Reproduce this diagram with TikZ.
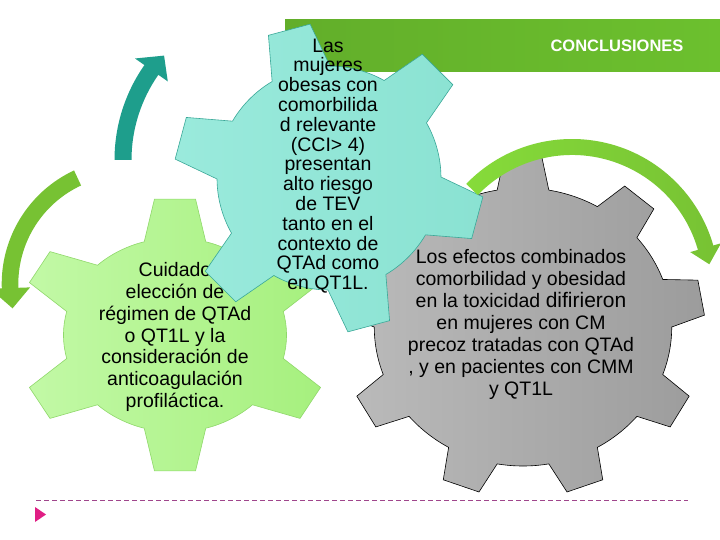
\documentclass[tikz,border=0pt]{standalone}
\usepackage{fontspec}
\setmainfont{Liberation Sans}
\definecolor{barleft}{HTML}{62AE2A}
\definecolor{barmid}{HTML}{82DD34}
\definecolor{barright}{HTML}{6CC02E}
\definecolor{greenlight}{HTML}{C2F9A6}
\definecolor{greendark}{HTML}{A6F07E}
\definecolor{greenline}{HTML}{8FD86A}
\definecolor{teallight}{HTML}{9AEADC}
\definecolor{tealdark}{HTML}{8AE2D2}
\definecolor{tealline}{HTML}{3AA898}
\definecolor{graylight}{HTML}{BBBBBB}
\definecolor{graydark}{HTML}{9C9C9C}
\definecolor{arrowteal}{HTML}{1E9E8C}
\definecolor{arrowgreen}{HTML}{77C233}
\definecolor{arrowlight}{HTML}{86DB3A}
\definecolor{rulecol}{HTML}{A0468C}
\definecolor{bullet}{HTML}{E01E84}
\begin{document}
\begin{tikzpicture}[x=1pt,y=-1pt,
    gearlabel/.style={align=center,text=black,font=\fontsize{19.5}{21.7}\selectfont},
    greengear/.style={draw=greenline,line width=0.6pt,left color=greenlight,right color=greendark},
    tealgear/.style={draw=tealline,line width=0.6pt,left color=teallight,right color=tealdark},
    graygear/.style={draw=black,line width=0.6pt,left color=graylight,right color=graydark}]
    \useasboundingbox[fill=white] (0,0) rectangle (720,540);
    \shade[left color=barleft,middle color=barmid,right color=barright] (285,20) rectangle (720,72);
    \node[text=white,font=\fontsize{16.5}{19}\selectfont\bfseries] (title) at (617,46) {CONCLUSIONES};
    \begin{scope}[shift={(523,327)},xscale=1.07]
        \path[graygear] (20:139) \foreach \a in {30,70,...,350}{ -- (\a-6:170) -- (\a+6:170) -- (\a+10:139) arc[start angle=\a+10,end angle=\a+30,radius=139]} -- cycle;
    \end{scope}
    \node[gearlabel,font=\fontsize{19.5}{22}\selectfont] (graytext) at (521,324) {Los efectos combinados\\comorbilidad y  obesidad\\en la toxicidad {\fontsize{21}{22}\selectfont difirieron}\\en mujeres con CM\\precoz tratadas con QTAd\\, y en pacientes con CMM\\y QT1L};
    \begin{scope}[shift={(175,335)},xscale=1.15]
        \path[greengear] (14:97) \foreach \a in {30,90,...,330}{ -- (\a-7.5:137) -- (\a+7.5:137) -- (\a+16:97) arc[start angle=\a+16,end angle=\a+44,radius=97]} -- cycle;
    \end{scope}
    \node[gearlabel] (greentext) at (175,337) {Cuidado\\elección de\\régimen de QTAd\\o QT1L y la\\consideración de\\anticoagulación\\profiláctica.};
    \begin{scope}[shift={(329,178)}]
        \path[tealgear] (-0.5:112) \foreach \a in {15,75,...,315}{ -- (\a-8:155) -- (\a+8:155) -- (\a+15.5:112) arc[start angle=\a+15.5,end angle=\a+44.5,radius=112]} -- cycle;
    \end{scope}
    \node[gearlabel,font=\fontsize{19.5}{19.8}\selectfont] (tealtext) at (328,166) {Las\\mujeres\\obesas con\\comorbilida\\d relevante\\(CCI> 4)\\presentan\\alto riesgo\\de TEV\\tanto en el\\contexto de\\QTAd como\\en  QT1L.};
    \begin{scope}[shift={(280,160)}]
        \fill[arrowteal] (180:165.5) arc[start angle=180,end angle=215,radius=165.5] -- (215:177) -- (222:156) -- (215:137) -- (215:148.5) arc[start angle=215,end angle=180,radius=148.5] -- cycle;
    \end{scope}
    \begin{scope}[shift={(127,284)}]
        \fill[arrowgreen] (245:125.3) arc[start angle=245,end angle=178,radius=125.3] -- (178:137) -- (168:117) -- (178:97) -- (178:108.7) arc[start angle=178,end angle=245,radius=108.7] -- cycle;
    \end{scope}
    \begin{scope}[shift={(572,286)}]
        \shade[left color=arrowlight,right color=arrowgreen] (224:147) arc[start angle=224,end angle=344,radius=147] -- (344:155) -- (351:139) -- (344:123) -- (344:131) arc[start angle=344,end angle=224,radius=131] -- cycle;
    \end{scope}
    \draw[rulecol,line width=0.8pt,dash pattern=on 5pt off 3pt] (36,500) -- (688,500);
    \fill[bullet] (35,507) -- (46,514.5) -- (35,522) -- cycle;
\end{tikzpicture}
\end{document}
